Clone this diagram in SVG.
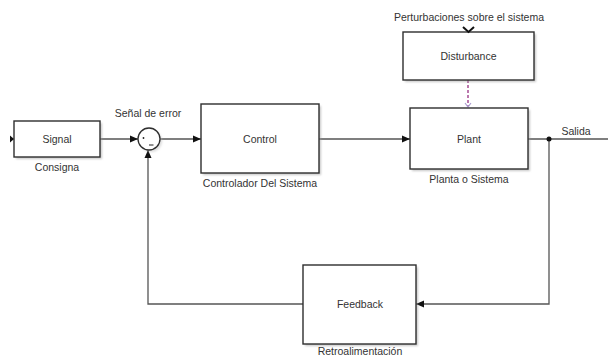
<svg xmlns="http://www.w3.org/2000/svg" width="608" height="356" viewBox="0 0 608 356">
  <style>
    .blk { fill: #ffffff; stroke: #2e2e2e; stroke-width: 1.4; }
    .shd { fill: #9a9a9a; opacity: 0.55; filter: url(#soft); }
    .wire { fill: none; stroke: #555555; stroke-width: 1.3; }
    .lbl { font-family: "Liberation Sans", Arial, sans-serif; font-size: 10.5px; fill: #333333; text-anchor: middle; }
  </style>
  <defs>
    <filter id="soft" x="-10%" y="-10%" width="120%" height="130%">
      <feGaussianBlur stdDeviation="1.2"/>
    </filter>
    <marker id="arr" viewBox="0 0 8 8" refX="8" refY="4" markerWidth="8" markerHeight="8" markerUnits="userSpaceOnUse" orient="auto">
      <path d="M0,0.5 L8,4 L0,7.5 Z" fill="#111111"/>
    </marker>
  </defs>

  <!-- signal lines -->
  <g id="connectors">
    <line class="wire" x1="100" y1="139" x2="138" y2="139" marker-end="url(#arr)"/>
    <line class="wire" x1="160" y1="139" x2="201" y2="139" marker-end="url(#arr)"/>
    <line class="wire" x1="319" y1="139" x2="410" y2="139" marker-end="url(#arr)"/>
    <line class="wire" x1="528" y1="139" x2="608" y2="139"/>
    <polyline class="wire" points="549,139 549,304 416,304" marker-end="url(#arr)"/>
    <polyline class="wire" points="303,304 148,304 148,150" marker-end="url(#arr)"/>
    <circle cx="549" cy="139" r="2.5" fill="#111111"/>
    <!-- disturbance injection -->
    <line x1="468" y1="80" x2="468" y2="106" stroke="#b46aa5" stroke-width="1.8" stroke-dasharray="3,2"/>
    <path d="M465,103 L468,107 L471,103" fill="none" stroke="#a99bd0" stroke-width="1.1"/>
    <text class="lbl" x="576" y="135">Salida</text>
  </g>

  <g id="signal">
    <rect class="shd" x="16" y="123" width="86" height="36"/>
    <rect class="blk" x="14" y="121" width="86" height="36"/>
    <path d="M10,135.5 L14,139 L10,142.5 Z" fill="#111111"/>
    <text class="lbl" x="57" y="142.5">Signal</text>
    <text class="lbl" x="57" y="171">Consigna</text>
  </g>

  <g id="sum">
    <circle cx="151" cy="141" r="11" fill="#bbbbbb" opacity="0.5" filter="url(#soft)"/>
    <circle cx="149" cy="139" r="11" fill="#ffffff" stroke="#2e2e2e" stroke-width="1.3"/>
    <circle cx="143.5" cy="138" r="0.9" fill="#222222"/>
    <line x1="149" y1="145" x2="153.5" y2="145" stroke="#222222" stroke-width="1"/>
    <text class="lbl" x="148" y="117">Señal de error</text>
  </g>

  <g id="control">
    <rect class="shd" x="203" y="106" width="118" height="69"/>
    <rect class="blk" x="201" y="104" width="118" height="69"/>
    <text class="lbl" x="260" y="142.5">Control</text>
    <text class="lbl" x="260" y="187">Controlador Del Sistema</text>
  </g>

  <g id="plant">
    <rect class="shd" x="412" y="110" width="118" height="61"/>
    <rect class="blk" x="410" y="108" width="118" height="61"/>
    <text class="lbl" x="469" y="142.5">Plant</text>
    <text class="lbl" x="469" y="183">Planta o Sistema</text>
  </g>

  <g id="disturbance">
    <rect class="shd" x="405" y="34" width="131" height="48"/>
    <rect class="blk" x="403" y="32" width="131" height="48"/>
    <path d="M463,27 L468.5,32 L474,27" fill="none" stroke="#111111" stroke-width="2"/>
    <text class="lbl" x="468.5" y="59.5">Disturbance</text>
    <text class="lbl" x="469" y="21">Perturbaciones sobre el sistema</text>
  </g>

  <g id="feedback">
    <rect class="shd" x="305" y="267" width="113" height="79"/>
    <rect class="blk" x="303" y="265" width="113" height="79"/>
    <text class="lbl" x="360" y="308">Feedback</text>
    <text class="lbl" x="360" y="355">Retroalimentación</text>
  </g>
</svg>
